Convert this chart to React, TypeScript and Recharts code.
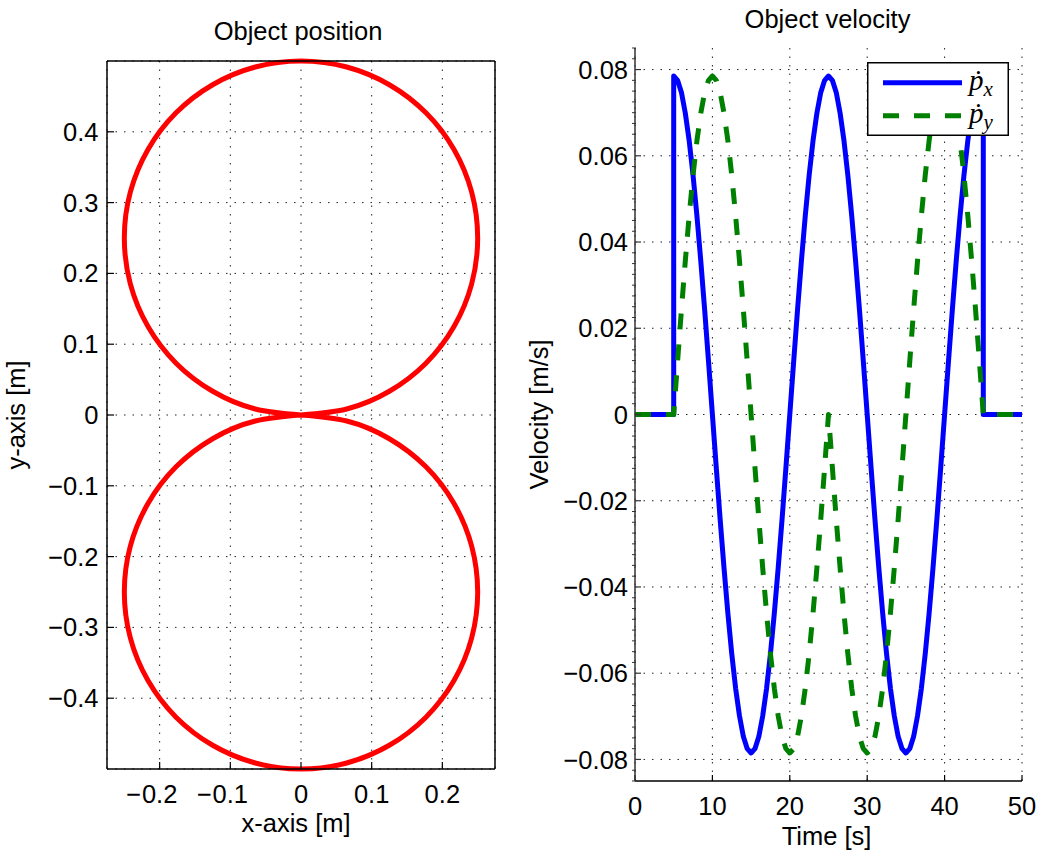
import React from 'react';
import { LineChart, Line, XAxis, YAxis, CartesianGrid, Legend } from 'recharts';

const FONT = '"Liberation Sans", Arial, Helvetica, sans-serif';
const SERIF = '"Liberation Serif", "DejaVu Serif", serif';
const FS = 25.5;

// ---- Object position: figure-eight path (upper loop, then lower loop) ----
const posX = [
  0, 0.0647, 0.125, 0.1768, 0.2165, 0.2415, 0.25, 0.2415, 0.2165, 0.1768, 0.125, 0.0647,
  0, -0.0647, -0.125, -0.1768, -0.2165, -0.2415, -0.25, -0.2415, -0.2165, -0.1768, -0.125, -0.0647,
  0, 0.0647, 0.125, 0.1768, 0.2165, 0.2415, 0.25, 0.2415, 0.2165, 0.1768, 0.125, 0.0647,
  0, -0.0647, -0.125, -0.1768, -0.2165, -0.2415, -0.25, -0.2415, -0.2165, -0.1768, -0.125, -0.0647,
  0,
];
const posY = [
  0, 0.0085, 0.0335, 0.0732, 0.125, 0.1853, 0.25, 0.3147, 0.375, 0.4268, 0.4665, 0.4915,
  0.5, 0.4915, 0.4665, 0.4268, 0.375, 0.3147, 0.25, 0.1853, 0.125, 0.0732, 0.0335, 0.0085,
  0, -0.0085, -0.0335, -0.0732, -0.125, -0.1853, -0.25, -0.3147, -0.375, -0.4268, -0.4665, -0.4915,
  -0.5, -0.4915, -0.4665, -0.4268, -0.375, -0.3147, -0.25, -0.1853, -0.125, -0.0732, -0.0335, -0.0085,
  0,
];
const posXTicks = [-0.2, -0.1, 0, 0.1, 0.2];
const posYTicks = [-0.4, -0.3, -0.2, -0.1, 0, 0.1, 0.2, 0.3, 0.4];

// ---- Object velocity ----
const time = [
  0, 5,
  5, 5.5, 6, 6.5, 7, 7.5, 8, 8.5, 9, 9.5, 10,
  10.5, 11, 11.5, 12, 12.5, 13, 13.5, 14, 14.5, 15,
  15.5, 16, 16.5, 17, 17.5, 18, 18.5, 19, 19.5, 20,
  20.5, 21, 21.5, 22, 22.5, 23, 23.5, 24, 24.5, 25,
  25.5, 26, 26.5, 27, 27.5, 28, 28.5, 29, 29.5, 30,
  30.5, 31, 31.5, 32, 32.5, 33, 33.5, 34, 34.5, 35,
  35.5, 36, 36.5, 37, 37.5, 38, 38.5, 39, 39.5, 40,
  40.5, 41, 41.5, 42, 42.5, 43, 43.5, 44, 44.5, 45,
  45, 50,
];
const velX = [
  0, 0,
  0.0785, 0.0775, 0.0747, 0.0699, 0.0635, 0.0555, 0.0461, 0.0356, 0.0243, 0.0123, 0,
  -0.0123, -0.0243, -0.0356, -0.0461, -0.0555, -0.0635, -0.0699, -0.0747, -0.0775, -0.0785,
  -0.0775, -0.0747, -0.0699, -0.0635, -0.0555, -0.0461, -0.0356, -0.0243, -0.0123, 0,
  0.0123, 0.0243, 0.0356, 0.0461, 0.0555, 0.0635, 0.0699, 0.0747, 0.0775, 0.0785,
  0.0775, 0.0747, 0.0699, 0.0635, 0.0555, 0.0461, 0.0356, 0.0243, 0.0123, 0,
  -0.0123, -0.0243, -0.0356, -0.0461, -0.0555, -0.0635, -0.0699, -0.0747, -0.0775, -0.0785,
  -0.0775, -0.0747, -0.0699, -0.0635, -0.0555, -0.0461, -0.0356, -0.0243, -0.0123, 0,
  0.0123, 0.0243, 0.0356, 0.0461, 0.0555, 0.0635, 0.0699, 0.0747, 0.0775, 0.0785,
  0, 0,
];
const velY = [
  0, 0,
  0, 0.0123, 0.0243, 0.0356, 0.0461, 0.0555, 0.0635, 0.0699, 0.0747, 0.0775, 0.0785,
  0.0775, 0.0747, 0.0699, 0.0635, 0.0555, 0.0461, 0.0356, 0.0243, 0.0123, 0,
  -0.0123, -0.0243, -0.0356, -0.0461, -0.0555, -0.0635, -0.0699, -0.0747, -0.0775, -0.0785,
  -0.0775, -0.0747, -0.0699, -0.0635, -0.0555, -0.0461, -0.0356, -0.0243, -0.0123, 0,
  -0.0123, -0.0243, -0.0356, -0.0461, -0.0555, -0.0635, -0.0699, -0.0747, -0.0775, -0.0785,
  -0.0775, -0.0747, -0.0699, -0.0635, -0.0555, -0.0461, -0.0356, -0.0243, -0.0123, 0,
  0.0123, 0.0243, 0.0356, 0.0461, 0.0555, 0.0635, 0.0699, 0.0747, 0.0775, 0.0785,
  0.0775, 0.0747, 0.0699, 0.0635, 0.0555, 0.0461, 0.0356, 0.0243, 0.0123, 0,
  0, 0,
];
const velXTicks = [0, 10, 20, 30, 40, 50];
const velYTicks = [-0.08, -0.06, -0.04, -0.02, 0, 0.02, 0.04, 0.06, 0.08];

// minor tick marks on the velocity axis, every 0.0025
const velMinorTicks = Array.from({ length: 69 }, (_, i) => Number(((i - 34) * 0.0025).toFixed(4)));

const posRows = posX.map((x, i) => ({ x, y: posY[i] }));
const velRows = time.map((t, i) => ({ t, px: velX[i], py: velY[i] }));

const fmt = (v: number, digits?: number) => {
  if (Math.abs(v) < 1e-9) return '0';
  const s = digits !== undefined ? Math.abs(v).toFixed(digits) : String(Math.abs(v));
  return (v < 0 ? '\u2212' : '') + s;
};

const tickStyle = { fill: '#000', fontSize: FS, fontFamily: FONT };

// bottom tick label: digits centred on the tick, minus sign hanging to the left
function PosXTick(props: any) {
  const { x, y, payload } = props;
  const v: number = payload.value;
  const digits = Math.abs(v) < 1e-9 ? '0' : String(Math.abs(v));
  const half = digits.length > 1 ? 16.5 : 7;
  return (
    <g>
      {v < 0 && (
        <text x={x - half - 2} y={y} dy="0.71em" textAnchor="end" fill="#000" fontSize={FS} fontFamily={FONT}>
          {'\u2212'}
        </text>
      )}
      <text x={x} y={y} dy="0.71em" textAnchor="middle" fill="#000" fontSize={FS} fontFamily={FONT}>
        {digits}
      </text>
    </g>
  );
}

function VelYTick(props: any) {
  const { x, y, payload } = props;
  const v: number = payload.value;
  const k = Math.round(v / 0.0025);
  const major = k % 8 === 0 && Math.abs(k) <= 32;
  if (!major) {
    return <line x1={x - 3} x2={x + 1} y1={y} y2={y} stroke="#333" strokeWidth={1} />;
  }
  return (
    <g>
      <line x1={x} x2={x + 6} y1={y} y2={y} stroke="#333" strokeWidth={1.2} />
      <text x={x - 7} y={y} dy="0.36em" textAnchor="end" fill="#000" fontSize={FS} fontFamily={FONT}>
        {fmt(v, 2)}
      </text>
    </g>
  );
}

function VelocityLegend(props: any) {
  const payload: any[] = (props.payload || []).filter((e: any) => e.type !== 'none');
  return (
    <svg width={142} height={74} style={{ display: 'block' }}>
      <rect x={0.75} y={0.75} width={140.5} height={72.5} fill="#fff" stroke="#000" strokeWidth={1.5} />
      {payload.map((entry, i) => {
        const cy = 20.7 + i * 33;
        const base = 28 + i * 33;
        const sub = String(entry.value).slice(1);
        return (
          <g key={i}>
            <line
              x1={16}
              x2={95}
              y1={cy}
              y2={cy}
              stroke={entry.color}
              strokeWidth={5}
              strokeDasharray={entry.payload && entry.payload.strokeDasharray}
            />
            <text x={102} y={base} fontFamily={SERIF} fontStyle="italic" fontSize={29} fill="#000">
              {'\u1E57'}
              <tspan fontSize={21} dy={6}>
                {sub}
              </tspan>
            </text>
          </g>
        );
      })}
    </svg>
  );
}

const titleStyle: React.CSSProperties = {
  position: 'absolute',
  fontFamily: FONT,
  fontSize: FS,
  lineHeight: `${FS}px`,
  textAlign: 'center',
  color: '#000',
  whiteSpace: 'nowrap',
};

export default function App() {
  return (
    <div style={{ position: 'absolute', left: 0, top: 0, width: 1039, height: 854, background: '#fff' }}>
      <div style={{ ...titleStyle, left: 104, top: 18.5, width: 388 }}>Object position</div>
      <div style={{ ...titleStyle, left: 634, top: 7, width: 387 }}>Object velocity</div>

      <div style={{ position: 'absolute', left: 0, top: 0 }}>
        <LineChart width={520} height={854} data={posRows} margin={{ top: 60, right: 24, bottom: 0, left: 0 }}>
          <CartesianGrid stroke="#222" strokeWidth={1} strokeDasharray="1.5 7" />
          <XAxis
            type="number"
            dataKey="x"
            domain={[-0.2745, 0.2745]}
            ticks={posXTicks}
            interval={0}
            height={85}
            tickSize={-7}
            tickMargin={23}
            tick={<PosXTick />}
            axisLine={{ stroke: '#000', strokeWidth: 1.5 }}
            tickLine={{ stroke: '#000', strokeWidth: 1.2 }}
            label={{ value: 'x-axis [m]', position: 'insideBottom', offset: 22, dx: -5, style: { fontSize: FS, fontFamily: FONT, fill: '#000' } }}
          />
          <XAxis
            xAxisId="top"
            orientation="top"
            type="number"
            dataKey="x"
            domain={[-0.2745, 0.2745]}
            allowDataOverflow
            ticks={posXTicks}
            interval={0}
            height={1}
            tickSize={-7}
            tick={false}
            axisLine={{ stroke: '#000', strokeWidth: 1.5 }}
            tickLine={{ stroke: '#000', strokeWidth: 1.2 }}
          />
          <YAxis
            type="number"
            domain={[-0.5, 0.5]}
            ticks={posYTicks}
            interval={0}
            width={107}
            tickSize={-7}
            tickMargin={15.5}
            tickFormatter={(v: number) => fmt(v)}
            tick={tickStyle}
            axisLine={{ stroke: '#000', strokeWidth: 1.5 }}
            tickLine={{ stroke: '#000', strokeWidth: 1.2 }}
            label={{ value: 'y-axis [m]', angle: -90, position: 'insideLeft', offset: 22, dx: -6, style: { textAnchor: 'middle', fontSize: FS, fontFamily: FONT, fill: '#000' } }}
          />
          <YAxis
            yAxisId="right"
            orientation="right"
            type="number"
            domain={[-0.5, 0.5]}
            allowDataOverflow
            ticks={posYTicks}
            interval={0}
            width={1}
            tickSize={-7}
            tick={false}
            axisLine={{ stroke: '#000', strokeWidth: 1.5 }}
            tickLine={{ stroke: '#000', strokeWidth: 1.2 }}
          />
          {/* unstroked twin of the path so the top and right frame axes get a scale */}
          <Line
            xAxisId="top"
            yAxisId="right"
            dataKey="y"
            type="linear"
            stroke="none"
            dot={false}
            activeDot={false}
            legendType="none"
            isAnimationActive={false}
          />
          <Line
            dataKey="y"
            type="natural"
            stroke="#ff0000"
            strokeWidth={5}
            strokeLinejoin="round"
            dot={false}
            activeDot={false}
            isAnimationActive={false}
          />
        </LineChart>
      </div>

      <div style={{ position: 'absolute', left: 520, top: 0 }}>
        <LineChart width={519} height={854} data={velRows} margin={{ top: 48, right: 17, bottom: 0, left: 0 }}>
          <CartesianGrid
            stroke="#222"
            strokeWidth={1}
            strokeDasharray="1.5 7"
            horizontalValues={velYTicks}
            verticalValues={velXTicks}
          />
          <XAxis
            type="number"
            dataKey="t"
            domain={[0, 50]}
            ticks={velXTicks}
            interval={0}
            height={73}
            tickSize={-6}
            tickMargin={21.7}
            tick={tickStyle}
            axisLine={{ stroke: '#000', strokeWidth: 1.5 }}
            tickLine={{ stroke: '#000', strokeWidth: 1.2 }}
            label={{ value: 'Time [s]', position: 'insideBottom', offset: 9, dx: -2, style: { fontSize: FS, fontFamily: FONT, fill: '#000' } }}
          />
          <YAxis
            type="number"
            domain={[-0.085, 0.085]}
            ticks={velMinorTicks}
            interval={0}
            width={115}
            tickSize={0}
            tickMargin={0}
            tick={<VelYTick />}
            tickLine={false}
            axisLine={{ stroke: '#333', strokeWidth: 1.5 }}
            label={{ value: 'Velocity [m/s]', angle: -90, position: 'insideLeft', offset: 15, dx: 3.5, style: { textAnchor: 'middle', fontSize: FS, fontFamily: FONT, fill: '#000' } }}
          />
          <Line
            dataKey="px"
            name="px"
            type="linear"
            stroke="#0000ff"
            strokeWidth={5}
            strokeLinejoin="round"
            dot={false}
            activeDot={false}
            isAnimationActive={false}
          />
          <Line
            dataKey="py"
            name="py"
            type="linear"
            stroke="#008000"
            strokeWidth={5}
            strokeDasharray="16 15"
            strokeLinejoin="round"
            dot={false}
            activeDot={false}
            isAnimationActive={false}
          />
          <Legend
            layout="horizontal"
            verticalAlign="middle"
            align="center"
            wrapperStyle={{ position: 'absolute', left: 347, top: 62, width: 142, height: 74 }}
            content={(p: any) => <VelocityLegend {...p} />}
          />
        </LineChart>
      </div>
    </div>
  );
}
